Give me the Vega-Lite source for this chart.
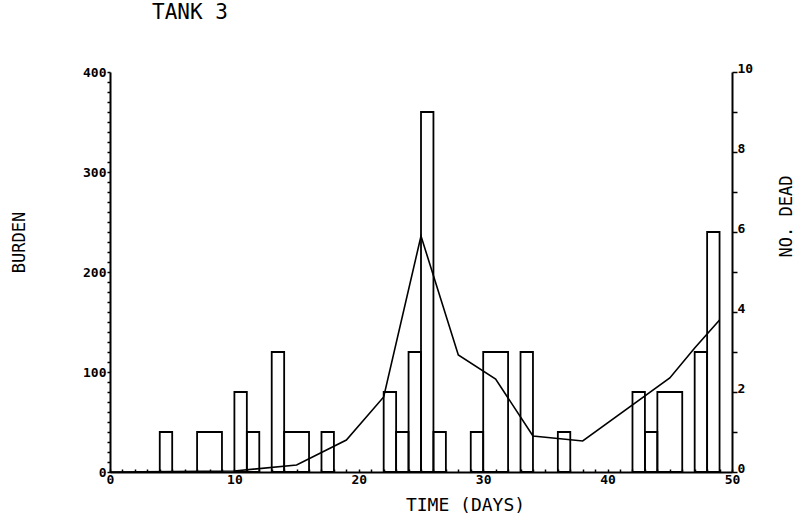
{
  "$schema": "https://vega.github.io/schema/vega-lite/v6.json",
  "autosize": "none",
  "width": 622,
  "height": 400,
  "padding": {"left": 110, "top": 72, "right": 68, "bottom": 44},
  "background": "white",
  "config": {
    "view": {"stroke": null},
    "font": "DejaVu Sans Mono",
    "axis": {
      "grid": false,
      "domainColor": "black",
      "domainWidth": 2,
      "tickColor": "black",
      "tickWidth": 1.5,
      "labelColor": "black",
      "titleColor": "black",
      "labelFont": "DejaVu Sans Mono",
      "titleFont": "DejaVu Sans Mono",
      "labelFontSize": 13,
      "labelFontWeight": "bold",
      "titleFontSize": 17,
      "titleFontWeight": "normal",
      "labelOverlap": false
    },
    "axisX": {"labelOverlap": false, "labelFlush": false}
  },
  "title": {
    "text": "TANK 3",
    "anchor": "start",
    "frame": "group",
    "dx": 42,
    "offset": 39,
    "fontSize": 21,
    "fontWeight": "normal",
    "font": "DejaVu Sans Mono",
    "color": "black"
  },
  "datasets": {
    "dead": [
      {"start": 4, "end": 5, "dead": 1},
      {"start": 7, "end": 9, "dead": 1},
      {"start": 10, "end": 11, "dead": 2},
      {"start": 11, "end": 12, "dead": 1},
      {"start": 13, "end": 14, "dead": 3},
      {"start": 14, "end": 16, "dead": 1},
      {"start": 17, "end": 18, "dead": 1},
      {"start": 22, "end": 23, "dead": 2},
      {"start": 23, "end": 24, "dead": 1},
      {"start": 24, "end": 25, "dead": 3},
      {"start": 25, "end": 26, "dead": 9},
      {"start": 26, "end": 27, "dead": 1},
      {"start": 29, "end": 30, "dead": 1},
      {"start": 30, "end": 32, "dead": 3},
      {"start": 33, "end": 34, "dead": 3},
      {"start": 36, "end": 37, "dead": 1},
      {"start": 42, "end": 43, "dead": 2},
      {"start": 43, "end": 44, "dead": 1},
      {"start": 44, "end": 46, "dead": 2},
      {"start": 47, "end": 48, "dead": 3},
      {"start": 48, "end": 49, "dead": 6}
    ],
    "burden": [
      {"day": 0, "burden": 0},
      {"day": 10, "burden": 1},
      {"day": 15, "burden": 7},
      {"day": 19, "burden": 32},
      {"day": 22, "burden": 75},
      {"day": 25, "burden": 236},
      {"day": 28, "burden": 117},
      {"day": 31, "burden": 93},
      {"day": 34, "burden": 36},
      {"day": 38, "burden": 31},
      {"day": 45, "burden": 94},
      {"day": 47, "burden": 124},
      {"day": 49, "burden": 152}
    ]
  },
  "layer": [
    {
      "data": {"name": "burden"},
      "mark": {"type": "line", "color": "black", "strokeWidth": 1.6},
      "encoding": {
        "x": {
          "field": "day",
          "type": "quantitative",
          "scale": {"domain": [0, 50], "nice": false},
          "axis": {
            "title": "TIME (DAYS)",
            "values": [0, 1, 2, 3, 4, 5, 6, 7, 8, 9, 10, 11, 12, 13, 14, 15, 16, 17, 18, 19, 20, 21, 22, 23, 24, 25, 26, 27, 28, 29, 30, 31, 32, 33, 34, 35, 36, 37, 38, 39, 40, 41, 42, 43, 44, 45, 46, 47, 48, 49, 50],
            "labelExpr": "datum.value % 10 === 0 ? datum.label : ''",
            "labelOverlap": false,
            "tickSize": -3,
            "labelPadding": 4,
            "labelFlush": false,
            "titleX": 355,
            "titleY": 38,
            "titleAlign": "center",
            "titleBaseline": "alphabetic",
            "titleFontSize": 18
          }
        },
        "y": {
          "field": "burden",
          "type": "quantitative",
          "scale": {"domain": [0, 400], "nice": false},
          "axis": {
            "title": "BURDEN",
            "orient": "left",
            "values": [0, 10, 20, 30, 40, 50, 60, 70, 80, 90, 100, 110, 120, 130, 140, 150, 160, 170, 180, 190, 200, 210, 220, 230, 240, 250, 260, 270, 280, 290, 300, 310, 320, 330, 340, 350, 360, 370, 380, 390, 400],
            "labelExpr": "datum.value % 100 === 0 ? datum.label : ''",
            "labelOverlap": false,
            "tickSize": 3,
            "labelPadding": 1,
            "titleX": -82,
            "titleY": 170,
            "titleAngle": 270,
            "titleAlign": "center",
            "titleBaseline": "bottom"
          }
        }
      }
    },
    {
      "data": {"name": "dead"},
      "mark": {"type": "bar", "fillOpacity": 0, "stroke": "black", "strokeWidth": 1.8},
      "encoding": {
        "x": {
          "field": "start",
          "type": "quantitative",
          "axis": {
            "title": "TIME (DAYS)",
            "values": [0, 1, 2, 3, 4, 5, 6, 7, 8, 9, 10, 11, 12, 13, 14, 15, 16, 17, 18, 19, 20, 21, 22, 23, 24, 25, 26, 27, 28, 29, 30, 31, 32, 33, 34, 35, 36, 37, 38, 39, 40, 41, 42, 43, 44, 45, 46, 47, 48, 49, 50],
            "labelExpr": "datum.value % 10 === 0 ? datum.label : ''",
            "labelOverlap": false,
            "tickSize": -3,
            "labelPadding": 4,
            "labelFlush": false,
            "titleX": 355,
            "titleY": 38,
            "titleAlign": "center",
            "titleBaseline": "alphabetic",
            "titleFontSize": 18
          }
        },
        "x2": {"field": "end"},
        "y": {
          "field": "dead",
          "type": "quantitative",
          "scale": {"domain": [0, 10], "nice": false},
          "axis": {
            "title": "NO. DEAD",
            "orient": "right",
            "values": [0, 1, 2, 3, 4, 5, 6, 7, 8, 9, 10],
            "labelExpr": "datum.value % 2 === 0 ? datum.label : ''",
            "labelOverlap": false,
            "tickSize": 5,
            "labelPadding": 0,
            "labelOffset": -4,
            "titleX": 63,
            "titleY": 144,
            "titleAngle": 270,
            "titleAlign": "center",
            "titleBaseline": "bottom"
          }
        },
        "y2": {"datum": 0}
      }
    }
  ],
  "resolve": {"scale": {"y": "independent"}}
}
